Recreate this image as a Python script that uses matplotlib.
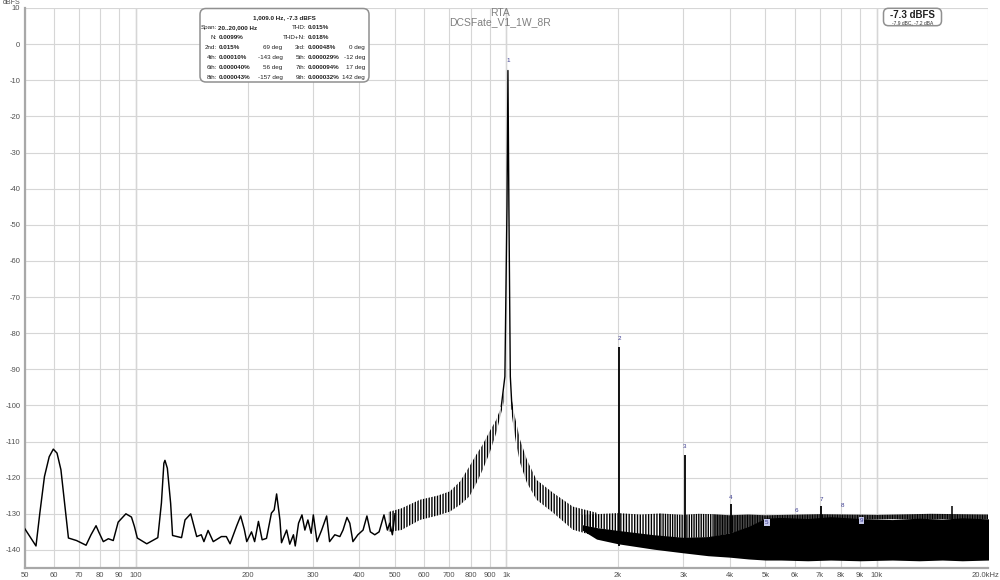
import math
import matplotlib
matplotlib.use("Agg")
import matplotlib.pyplot as plt
import matplotlib.transforms as mtransforms
from matplotlib.patches import FancyBboxPatch

plt.rcParams['font.family'] = ['Liberation Sans', 'DejaVu Sans']
plt.rcParams['hatch.linewidth'] = 1.0
plt.rcParams['hatch.color'] = 'black'

# ---------------- data ----------------
# low-frequency trace (Hz, dBFS)
low_f = [50, 53.7, 55.0, 56.6, 58.3, 59.8, 61.2, 62.7, 64.3, 65.7, 69.1, 73.3, 75.6, 78, 79.3,
         81.6, 84.2, 86.8, 89.5, 93.9, 97.2, 99.0, 100.8, 106.9, 114.5, 117.1, 118.9, 119.7,
         121.5, 124, 125.5, 132.7, 135.6, 140.5, 145.8, 150, 152.5, 156.5, 161.6, 170, 175.3,
         179.4, 187, 191.6, 196, 199, 205, 209, 214, 219, 225, 232, 236, 239.6, 244.6, 247,
         255, 260, 266, 269, 274.6, 280.5, 285.6, 291, 297, 301, 308, 317, 327, 333, 344, 355,
         362, 371, 377.6, 385, 397, 410, 420, 429, 441, 453, 467, 477, 484, 492, 500]
low_db = [-134, -138.9, -129.8, -119.7, -114.2, -112.1, -113.2, -117.8, -128, -136.7, -137.4,
          -138.7, -135.8, -133.3, -135, -137.7, -136.9, -137.4, -132.3, -130, -130.9, -133.5,
          -136.7, -138.3, -136.6, -127, -116, -115.2, -117.4, -127.1, -136, -136.6, -131.7,
          -130, -136.3, -135.8, -137.7, -134.6, -137.7, -136.3, -136.3, -138.3, -133.3, -130.6,
          -134.3, -137.7, -135, -137.7, -132.1, -137.2, -136.8, -129.8, -128.9, -124.5, -131.7,
          -138, -134.5, -138.4, -135.8, -138.9, -132.6, -130.3, -134.5, -131.7, -135.4, -130.3,
          -137.7, -134.5, -130.6, -137.7, -135.8, -136.3, -134.5, -131, -132.6, -137.7, -135.8,
          -134.5, -130.6, -135, -135.8, -135, -130.3, -134.5, -132.6, -135.8, -130]

# jagged skirt around the fundamental: upper / lower envelope (Hz, dBFS)
skirtL_f = [480, 520, 584, 650, 703, 750, 794, 830, 862, 900, 938, 968, 985]
skirtL_up = [-129.5, -128.5, -126.1, -125, -123.8, -121, -116.9, -113.5, -110.9, -107.2, -104, -100.3, -96]
skirtL_lo = [-135, -134.5, -131.7, -130.5, -129.4, -127.5, -125.2, -121.5, -117.9, -113.2, -107.7, -102, -99]
skirtR_f = [1028, 1045, 1063, 1088, 1135, 1205, 1336, 1510, 1751]
skirtR_up = [-97, -101.5, -104.9, -109.5, -115, -120.6, -124.2, -128, -129.7]
skirtR_lo = [-101, -106, -110.9, -115.9, -121.4, -126.1, -129.7, -134.4, -136.3]

# fundamental peak
peak_f = [968, 990, 1003, 1009, 1015, 1024, 1035]
peak_db = [-100.3, -92, -45, -7.3, -45, -92, -101]

# noise floor band (solid) and comb of spurs above it
floor_f = [1600, 1750, 2000, 2500, 3000, 3500, 4000, 4500, 5000, 5500, 6500, 7500, 9000,
           11000, 13000, 15000, 17000, 20000]
floor_up = [-133, -133.8, -134.6, -135.8, -136.5, -136.3, -135.3, -133.5, -131.2, -131, -131.3,
            -130.8, -131.3, -131.6, -131.2, -131.5, -131.1, -131.4]
floor_lo = [-134.5, -137, -138.3, -139.8, -140.8, -141.6, -142, -142.5, -142.8, -142.8, -143,
            -142.8, -143, -142.8, -143, -142.8, -143, -142.8]
comb_f = [1600, 2000, 2300, 2600, 3000, 3300, 3600, 4000, 4500, 5000, 7000, 10000, 14000, 20000]
comb_up = [-130.3, -129.8, -130.2, -129.9, -130.3, -130, -130.1, -130.4, -130.2, -130.4,
           -130.1, -130.3, -130.0, -130.2]
comb_lo = [-133, -135, -135.8, -136.3, -136.7, -136.6, -136.4, -135.5, -134, -131.5,
           -131.5, -131.5, -131.5, -131.5]

# fundamental + harmonics
fund_f = 1009.0
fund_db = -7.3
harm_order = [2, 3, 4, 5, 6, 7, 8, 9]
harm_pct_txt = ['0.015%', '0.00048%', '0.00010%', '0.000029%', '0.000040%', '0.000094%',
                '0.000043%', '0.000032%']
harm_phase = [69, 0, -143, -12, 56, 17, -157, 142]
marker_db = [-5.1, -82.1, -112, -126.1, -133.2, -129.7, -126.6, -128.4, -132.6]  # label levels 1..9
boxed_markers = [5, 9]
spur_f = [15900]
spur_db = [-127.8]

thd_txt = '0.015%'
thdn_txt = '0.018%'
noise_txt = '0.0099%'
span_txt = '20..20,000 Hz'
weighted_txt = '-7.9 dBC, -7.2 dBA'

xticks = [50, 60, 70, 80, 90, 100, 200, 300, 400, 500, 600, 700, 800, 900,
          1000, 2000, 3000, 4000, 5000, 6000, 7000, 8000, 9000, 10000, 20000]
xtick_labels = ['50', '60', '70', '80', '90', '100', '200', '300', '400', '500', '600',
                '700', '800', '900', '1k', '2k', '3k', '4k', '5k', '6k', '7k', '8k', '9k',
                '10k', '20.0kHz']
decades = [100, 1000, 10000]
yticks = list(range(10, -141, -10))

# ---------------- figure ----------------
W, H = 1000, 580
fig = plt.figure(figsize=(W / 100, H / 100), dpi=100)
ax = fig.add_axes([24.5 / W, 1 - 568 / H, 964 / W, 560 / H])
ax.set_xscale('log')
ax.set_xlim(50, 20000)
ax.set_ylim(-145, 10)

ax.set_xticks(xticks)
ax.set_xticklabels(xtick_labels)
ax.minorticks_off()
ax.set_yticks(yticks)
ax.set_yticklabels([str(v) for v in yticks])
ax.tick_params(length=0, labelsize=5.5, labelcolor='#505050', pad=3)
last = ax.get_xticklabels()[-1]
last.set_transform(last.get_transform() + mtransforms.ScaledTranslation(-3 / 100, 0, fig.dpi_scale_trans))
ax.grid(True, color='#d6d6d6', lw=0.8)
ax.set_axisbelow(True)
for d in decades:
    ax.axvline(d, color='#a8a8a8', lw=0.9, zorder=0.5)
for s in ['top', 'right']:
    ax.spines[s].set_visible(False)
for s in ['left', 'bottom']:
    ax.spines[s].set_color('#a8a8a8')
    ax.spines[s].set_linewidth(1.6)

# harmonic spikes (hidden ones sit inside the noise)
harm_f = [fund_f * n for n in harm_order]
harm_db = [fund_db + 20 * math.log10(float(p.rstrip('%')) / 100) for p in harm_pct_txt]
ax.vlines(harm_f, -139, harm_db, color='black', lw=1.3, zorder=3)
ax.vlines(spur_f, -139, spur_db, color='black', lw=1.1, zorder=3)

# low-frequency trace
ax.plot(low_f, low_db, color='black', lw=1.05, zorder=4)
# skirts (jagged -> vertical hatching)
for f, lo, up in [(skirtL_f, skirtL_lo, skirtL_up), (skirtR_f, skirtR_lo, skirtR_up)]:
    ax.fill_between(f, lo, up, facecolor='none', edgecolor='black', linewidth=0,
                    hatch='||||||', zorder=4)
ax.plot(peak_f, peak_db, color='black', lw=1.0, zorder=4)
# noise floor
ax.fill_between(floor_f, floor_lo, floor_up, color='black', linewidth=0, zorder=4)
# comb of spurs
segs = [(0, 4, '||||||'), (3, 7, '|||||||'), (6, 14, '||||||||||')]
for a, b, h in segs:
    ax.fill_between(comb_f[a:b], comb_lo[a:b], comb_up[a:b], facecolor='none',
                    edgecolor='black', linewidth=0, hatch=h, zorder=4)

# harmonic markers
mark_f = [fund_f] + harm_f
for i, (f, db) in enumerate(zip(mark_f, marker_db)):
    n = i + 1
    kw = dict(ha='center', va='bottom', fontsize=4.5, color='#3a3a90', zorder=6)
    if n in boxed_markers:
        kw['bbox'] = dict(boxstyle='square,pad=0.15', fc='#c5c8ea', ec='none')
    ax.text(f, db, str(n), **kw)

# ---------------- texts ----------------
def fx(x):
    return x / W

def fy(y):
    return 1 - y / H

fig.text(fx(12), fy(3), 'dBFS', ha='center', va='center', fontsize=5, color='#505050')
fig.text(fx(500), fy(12.5), 'RTA', ha='center', va='center', fontsize=7.5, color='#808080')
fig.text(fx(500), fy(22.5), 'DCSFate_V1_1W_8R', ha='center', va='center', fontsize=7.5,
         color='#808080')

# info box
box = FancyBboxPatch((200, H - 82), 169, 73.5, boxstyle='round,pad=0,rounding_size=6',
                     transform=None, fc='white', ec='#909090', lw=1.1, zorder=10)
fig.add_artist(box)
fs = 4.5
tc = '#202020'
fig.text(fx(284), fy(17.7), f'{fund_f:,.1f} Hz, {fund_db} dBFS', ha='center', va='center',
         fontsize=fs, weight='bold', color=tc, zorder=11)
left_lab = ['Span:', 'N:']
left_val = [span_txt, noise_txt]
right_lab = ['THD:', 'THD+N:']
right_val = [thd_txt, thdn_txt]
ordn = {2: '2nd', 3: '3rd', 4: '4th', 5: '5th', 6: '6th', 7: '7th', 8: '8th', 9: '9th'}
rows_y = [27.7, 37.7, 47.7, 57.7, 67.7, 77.7]
for r in range(2):
    y = rows_y[r]
    fig.text(fx(217), fy(y), left_lab[r], ha='right', va='center', fontsize=fs, color=tc, zorder=11)
    fig.text(fx(218.5), fy(y), left_val[r], ha='left', va='center', fontsize=fs, weight='bold',
             color=tc, zorder=11)
    fig.text(fx(306), fy(y), right_lab[r], ha='right', va='center', fontsize=fs, color=tc, zorder=11)
    fig.text(fx(307.5), fy(y), right_val[r], ha='left', va='center', fontsize=fs, weight='bold',
             color=tc, zorder=11)
for k in range(4):
    y = rows_y[2 + k]
    for c, (xl, xd) in enumerate([(217, 282.5), (306, 365)]):
        j = 2 * k + c
        fig.text(fx(xl), fy(y), ordn[harm_order[j]] + ':', ha='right', va='center', fontsize=fs,
                 color=tc, zorder=11)
        fig.text(fx(xl + 1.5), fy(y), harm_pct_txt[j], ha='left', va='center', fontsize=fs,
                 weight='bold', color=tc, zorder=11)
        fig.text(fx(xd), fy(y), f'{harm_phase[j]} deg', ha='right', va='center', fontsize=fs,
                 color=tc, zorder=11)

# level box (top right)
box2 = FancyBboxPatch((883.5, H - 25.7), 58, 17.4, boxstyle='round,pad=0,rounding_size=5',
                      transform=None, fc='white', ec='#909090', lw=1.1, zorder=10)
fig.add_artist(box2)
fig.text(fx(912.5), fy(15.5), f'{fund_db} dBFS', ha='center', va='center', fontsize=7,
         weight='bold', color='#202020', zorder=11)
fig.text(fx(912.5), fy(22.8), weighted_txt, ha='center', va='center', fontsize=3.5,
         color='#303030', zorder=11)

fig.savefig('out.png', dpi=100)
